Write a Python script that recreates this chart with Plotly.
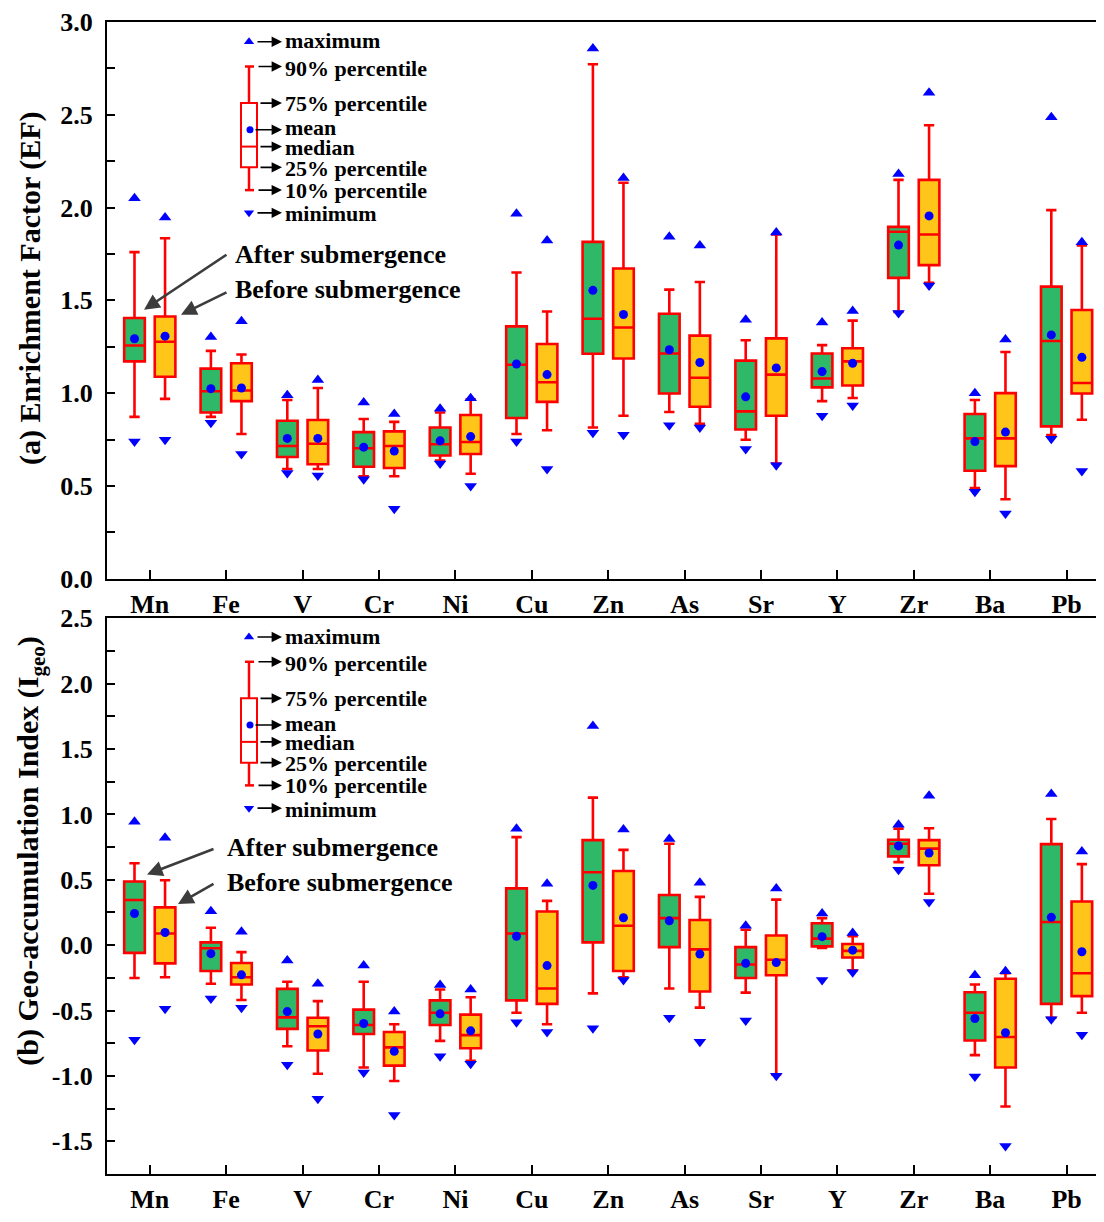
import plotly.graph_objects as go

# ---------------- data ----------------
elements = ["Mn", "Fe", "V", "Cr", "Ni", "Cu", "Zn", "As", "Sr", "Y", "Zr", "Ba", "Pb"]

# (a) Enrichment factor - after submergence (green)
ef_after_max    = [2.05, 1.303, 0.988, 0.949, 0.916, 1.967, 2.857, 1.843, 1.395, 1.381, 2.181, 1.000, 2.487]
ef_after_p90    = [1.76, 1.228, 0.963, 0.861, 0.896, 1.650, 2.772, 1.558, 1.285, 1.259, 2.149, 0.963, 1.986]
ef_after_q3     = [1.405, 1.132, 0.851, 0.790, 0.815, 1.360, 1.815, 1.428, 1.175, 1.214, 1.896, 0.888, 1.574]
ef_after_mean   = [1.293, 1.024, 0.756, 0.709, 0.743, 1.157, 1.554, 1.234, 0.980, 1.116, 1.798, 0.739, 1.314]
ef_after_median = [1.257, 1.010, 0.715, 0.703, 0.725, 1.153, 1.401, 1.214, 0.902, 1.079, 1.870, 0.756, 1.281]
ef_after_q1     = [1.171, 0.896, 0.656, 0.603, 0.664, 0.866, 1.212, 0.998, 0.804, 1.031, 1.621, 0.582, 0.821]
ef_after_p10    = [0.872, 0.872, 0.591, 0.552, 0.637, 0.780, 0.815, 0.898, 0.749, 0.957, 1.438, 0.489, 0.774]
ef_after_min    = [0.739, 0.841, 0.570, 0.536, 0.621, 0.739, 0.786, 0.827, 0.699, 0.878, 1.432, 0.468, 0.754]

# (a) Enrichment factor - before submergence (orange)
ef_before_max    = [1.947, 1.387, 1.071, 0.888, 0.973, 1.823, 2.159, 1.796, 1.866, 1.442, 2.619, 1.289, 1.813]
ef_before_p90    = [1.835, 1.208, 1.028, 0.845, 0.967, 1.440, 2.134, 1.599, 1.855, 1.391, 2.444, 1.222, 1.796]
ef_before_q3     = [1.413, 1.161, 0.855, 0.794, 0.882, 1.265, 1.672, 1.310, 1.295, 1.242, 2.149, 1.000, 1.448]
ef_before_mean   = [1.307, 1.028, 0.756, 0.688, 0.766, 1.100, 1.424, 1.165, 1.136, 1.161, 1.955, 0.790, 1.193]
ef_before_median = [1.277, 1.014, 0.727, 0.715, 0.737, 1.059, 1.354, 1.083, 1.100, 1.171, 1.855, 0.756, 1.055]
ef_before_q1     = [1.088, 0.957, 0.617, 0.597, 0.672, 0.953, 1.187, 0.927, 0.878, 1.041, 1.690, 0.607, 0.998]
ef_before_p10    = [0.969, 0.780, 0.591, 0.552, 0.566, 0.800, 0.878, 0.835, 0.621, 0.974, 1.595, 0.428, 0.857]
ef_before_min    = [0.749, 0.672, 0.556, 0.377, 0.499, 0.591, 0.776, 0.815, 0.611, 0.933, 1.580, 0.352, 0.580]

# (b) Geo-accumulation index - after submergence (green)
ig_after_max    = [0.944, 0.260, -0.118, -0.156, -0.304, 0.891, 1.676, 0.812, 0.148, 0.242, 0.921, -0.230, 1.157]
ig_after_p90    = [0.626, 0.133, -0.280, -0.280, -0.339, 0.826, 1.128, 0.776, 0.118, 0.207, 0.891, -0.301, 0.965]
ig_after_q3     = [0.487, 0.021, -0.334, -0.493, -0.422, 0.434, 0.803, 0.384, -0.015, 0.168, 0.806, -0.360, 0.773]
ig_after_mean   = [0.242, -0.065, -0.508, -0.599, -0.525, 0.068, 0.457, 0.186, -0.139, 0.065, 0.759, -0.561, 0.213]
ig_after_median = [0.345, -0.024, -0.552, -0.611, -0.517, 0.089, 0.558, 0.207, -0.148, 0.050, 0.776, -0.517, 0.177]
ig_after_q1     = [-0.059, -0.198, -0.640, -0.679, -0.611, -0.422, 0.021, -0.015, -0.251, -0.009, 0.679, -0.729, -0.449]
ig_after_p10    = [-0.251, -0.295, -0.773, -0.936, -0.732, -0.517, -0.369, -0.331, -0.363, -0.021, 0.635, -0.841, -0.555]
ig_after_min    = [-0.723, -0.407, -0.915, -0.974, -0.850, -0.590, -0.635, -0.555, -0.576, -0.266, 0.576, -1.004, -0.567]

# (b) Geo-accumulation index - before submergence (orange)
ig_before_max    = [0.821, 0.103, -0.295, -0.508, -0.339, 0.469, 0.885, 0.478, 0.434, 0.094, 1.142, -0.200, 0.717]
ig_before_p90    = [0.496, -0.053, -0.428, -0.605, -0.398, 0.339, 0.729, 0.369, 0.348, 0.068, 0.894, -0.215, 0.620]
ig_before_q3     = [0.289, -0.136, -0.555, -0.664, -0.531, 0.257, 0.567, 0.192, 0.074, 0.009, 0.803, -0.257, 0.334]
ig_before_mean   = [0.097, -0.227, -0.679, -0.812, -0.655, -0.156, 0.210, -0.068, -0.133, -0.038, 0.705, -0.670, -0.050]
ig_before_median = [0.089, -0.245, -0.620, -0.782, -0.688, -0.331, 0.148, -0.032, -0.112, -0.044, 0.738, -0.702, -0.215]
ig_before_q1     = [-0.139, -0.301, -0.806, -0.921, -0.788, -0.449, -0.198, -0.354, -0.230, -0.094, 0.611, -0.936, -0.390]
ig_before_p10    = [-0.245, -0.419, -0.983, -1.039, -0.885, -0.605, -0.245, -0.478, -0.989, -0.192, 0.393, -1.234, -0.517]
ig_before_min    = [-0.487, -0.478, -1.175, -1.299, -0.906, -0.664, -0.266, -0.738, -0.998, -0.207, 0.331, -1.535, -0.685]

ef_ticks = [0.0, 0.5, 1.0, 1.5, 2.0, 2.5, 3.0]
ig_ticks = [-1.5, -1.0, -0.5, 0.0, 0.5, 1.0, 1.5, 2.0, 2.5]

legend_labels = ["maximum", "90% percentile", "75% percentile", "mean", "median",
                 "25% percentile", "10% percentile", "minimum"]

# ---------------- styling ----------------
OFF = 8                      # default page margin of the HTML body
FW, FH = 1104 - 2 * OFF, 1222 - 2 * OFF
ML, MR, MT, MB = 99, 0, 10, 31
GREEN = "#2FB868"
ORANGE = "#FFC519"
RED = "#FF0000"
BLUE = "#0000FF"
FONT = "Liberation Serif"
XR = [-0.56, 12.385]
Y1R = [0.0, 3.0]
Y2R = [-1.75, 2.5]
TOP_PX = (18, 581)      # page-pixel extent of panel (a)
BOT_PX = (621, 1183)    # page-pixel extent of panel (b)

PW = FW - ML - MR
PH = FH - MT - MB


def px_paper(px, py):
    fx, fy = px - OFF, py - OFF
    return (fx - ML) / PW, (FH - MB - fy) / PH


def px_datax(px):
    return XR[0] + (px - OFF - ML) / PW * (XR[1] - XR[0])


def px_datay(py, panel):
    top, bot = TOP_PX if panel == 0 else BOT_PX
    rng = Y1R if panel == 0 else Y2R
    return rng[0] + (bot - py) / (bot - top) * (rng[1] - rng[0])


pos_after = [i - 0.2 for i in range(len(elements))]
pos_before = [i + 0.2 for i in range(len(elements))]

fig = go.Figure()

panels = [
    ("x", "y", [
        (pos_after, GREEN, ef_after_max, ef_after_p90, ef_after_q3, ef_after_mean, ef_after_median, ef_after_q1, ef_after_p10, ef_after_min),
        (pos_before, ORANGE, ef_before_max, ef_before_p90, ef_before_q3, ef_before_mean, ef_before_median, ef_before_q1, ef_before_p10, ef_before_min),
    ]),
    ("x2", "y2", [
        (pos_after, GREEN, ig_after_max, ig_after_p90, ig_after_q3, ig_after_mean, ig_after_median, ig_after_q1, ig_after_p10, ig_after_min),
        (pos_before, ORANGE, ig_before_max, ig_before_p90, ig_before_q3, ig_before_mean, ig_before_median, ig_before_q1, ig_before_p10, ig_before_min),
    ]),
]

for xa, ya, groups in panels:
    for pos, col, mx, p90, q3, mean, med, q1, p10, mn in groups:
        fig.add_trace(go.Box(
            x=pos, q1=q1, median=med, q3=q3, lowerfence=p10, upperfence=p90,
            fillcolor=col, line=dict(color=RED, width=2.6), width=0.27,
            whiskerwidth=0.5, boxpoints=False, showlegend=False,
            xaxis=xa, yaxis=ya, hoverinfo="skip"))
    for pos, col, mx, p90, q3, mean, med, q1, p10, mn in groups:
        fig.add_trace(go.Scatter(x=pos, y=mean, mode="markers", xaxis=xa, yaxis=ya,
                                 marker=dict(symbol="circle", size=9, color=BLUE),
                                 showlegend=False, cliponaxis=False))
        fig.add_trace(go.Scatter(x=pos, y=mx, mode="markers", xaxis=xa, yaxis=ya,
                                 marker=dict(symbol="triangle-up", size=11, color=BLUE),
                                 showlegend=False, cliponaxis=False))
        fig.add_trace(go.Scatter(x=pos, y=mn, mode="markers", xaxis=xa, yaxis=ya,
                                 marker=dict(symbol="triangle-down", size=11, color=BLUE),
                                 showlegend=False, cliponaxis=False))

shapes = []
annotations = []

# ---------------- explanatory key (drawn in both panels) ----------------
for panel in (0, 1):
    dy = 0 if panel == 0 else 602
    xa, ya = ("x", "y") if panel == 0 else ("x2", "y2")
    x0, y0 = px_paper(241, 100 + dy)
    x1, y1 = px_paper(257, 165 + dy)
    shapes.append(dict(type="rect", xref="paper", yref="paper", x0=x0, y0=y1, x1=x1, y1=y0,
                       line=dict(color=RED, width=2), fillcolor="rgba(0,0,0,0)"))
    a, b = px_paper(241, 144 + dy)
    c, d = px_paper(257, 144 + dy)
    shapes.append(dict(type="line", xref="paper", yref="paper", x0=a, y0=b, x1=c, y1=d,
                       line=dict(color=RED, width=2)))
    for (ya_px, yb_px) in [(63, 100), (165, 188)]:
        a, b = px_paper(249, ya_px + dy)
        c, d = px_paper(249, yb_px + dy)
        shapes.append(dict(type="line", xref="paper", yref="paper", x0=a, y0=b, x1=c, y1=d,
                           line=dict(color=RED, width=2.5)))
    for cap in (63, 188):
        a, b = px_paper(245, cap + dy)
        c, d = px_paper(254, cap + dy)
        shapes.append(dict(type="line", xref="paper", yref="paper", x0=a, y0=b, x1=c, y1=d,
                           line=dict(color=RED, width=2.5)))
    fig.add_trace(go.Scatter(x=[px_datax(249)], y=[px_datay(38 + dy, panel)], mode="markers",
                             xaxis=xa, yaxis=ya, showlegend=False, cliponaxis=False,
                             marker=dict(symbol="triangle-up", size=9, color=BLUE)))
    fig.add_trace(go.Scatter(x=[px_datax(249)], y=[px_datay(211 + dy, panel)], mode="markers",
                             xaxis=xa, yaxis=ya, showlegend=False, cliponaxis=False,
                             marker=dict(symbol="triangle-down", size=9, color=BLUE)))
    fig.add_trace(go.Scatter(x=[px_datax(250)], y=[px_datay(127 + dy, panel)], mode="markers",
                             xaxis=xa, yaxis=ya, showlegend=False, cliponaxis=False,
                             marker=dict(symbol="circle", size=7, color=BLUE)))
    arrow_rows = [(38, 256), (63, 257), (100, 259), (127, 254), (144, 259), (165, 259), (188, 257), (211, 256)]
    text_rows = [37, 65, 100, 125, 145, 166, 188, 212]
    for (ay_px, tail), ty, lab in zip(arrow_rows, text_rows, legend_labels):
        hx, hy = px_paper(282, ay_px + dy)
        annotations.append(dict(xref="paper", yref="paper", x=hx, y=hy, ax=-(282 - tail), ay=0,
                                axref="pixel", ayref="pixel", text="", showarrow=True,
                                arrowhead=2, arrowsize=1.3, arrowwidth=1.6, arrowcolor="black",
                                standoff=0, startstandoff=0))
        tx, tyy = px_paper(283, ty + dy)
        annotations.append(dict(xref="paper", yref="paper", x=tx, y=tyy, xanchor="left",
                                yanchor="middle", text=lab, showarrow=False,
                                font=dict(family=FONT, size=22, color="black", weight="bold")))

# ---------------- "After / Before submergence" call-outs ----------------
callouts = [
    ("After submergence", 233, 253, (228, 253), (144, 309)),
    ("Before submergence", 233, 289, (228, 291), (181, 314)),
    ("After submergence", 225, 853, (215, 854), (147, 880)),
    ("Before submergence", 225, 888, (215, 889), (178, 910)),
]
for text, tx, ty, tail, head in callouts:
    hx, hy = px_paper(*head)
    annotations.append(dict(xref="paper", yref="paper", x=hx, y=hy,
                            ax=tail[0] - head[0], ay=tail[1] - head[1], axref="pixel", ayref="pixel",
                            text="", showarrow=True, arrowhead=2, arrowsize=1.2, arrowwidth=2.6,
                            arrowcolor="#3C3C3C", standoff=0, startstandoff=0))
    px_, py_ = px_paper(tx, ty)
    annotations.append(dict(xref="paper", yref="paper", x=px_, y=py_, xanchor="left",
                            yanchor="middle", text=text, showarrow=False,
                            font=dict(family=FONT, size=26, color="black", weight="bold")))

# ---------------- axis titles ----------------
annotations.append(dict(xref="paper", yref="paper", x=px_paper(30, 0)[0], y=px_paper(0, 287)[1],
                        text="(a) Enrichment Factor (EF)", textangle=-90, showarrow=False,
                        xanchor="center", yanchor="middle",
                        font=dict(family=FONT, size=30, color="black", weight="bold")))
annotations.append(dict(xref="paper", yref="paper", x=px_paper(30, 0)[0], y=px_paper(0, 856)[1],
                        text="(b) Geo-accumulation Index (I<sub>geo</sub>)", textangle=-90,
                        showarrow=False, xanchor="center", yanchor="middle",
                        font=dict(family=FONT, size=30, color="black", weight="bold")))

tickfont = dict(family=FONT, size=26, color="black", weight="bold")


def xaxis_cfg(anchor):
    return dict(range=XR, anchor=anchor, domain=[0, 1], showline=True, mirror=True,
                linecolor="black", linewidth=2, ticks="inside", ticklen=9, tickwidth=2,
                tickcolor="black", tickmode="array", tickvals=list(range(len(elements))),
                ticktext=elements, tickfont=tickfont, showgrid=False, zeroline=False,
                ticklabelstandoff=1)


def yaxis_cfg(anchor, rng, ticks, domain):
    return dict(range=rng, anchor=anchor, domain=domain, showline=True, mirror=False,
                linecolor="black", linewidth=2, ticks="inside", ticklen=8, tickwidth=2,
                tickcolor="black", tickmode="array", tickvals=ticks,
                ticktext=[f"{v:.1f}" for v in ticks], tickfont=tickfont, showgrid=False,
                zeroline=False, ticklabelstandoff=7,
                minor=dict(tickmode="linear", tick0=0, dtick=0.25, ticks="inside", ticklen=8,
                           tickwidth=2, tickcolor="black", showgrid=False))


fig.update_layout(
    width=FW, height=FH,
    margin=dict(l=ML, r=MR, t=MT, b=MB, pad=0),
    paper_bgcolor="white", plot_bgcolor="white",
    xaxis=xaxis_cfg("y"),
    yaxis=yaxis_cfg("x", Y1R, ef_ticks, [px_paper(0, TOP_PX[1])[1], px_paper(0, TOP_PX[0])[1]]),
    xaxis2=xaxis_cfg("y2"),
    yaxis2=yaxis_cfg("x2", Y2R, ig_ticks, [px_paper(0, BOT_PX[1])[1], px_paper(0, BOT_PX[0])[1]]),
    shapes=shapes, annotations=annotations, showlegend=False,
)

fig.write_html("out.html")
